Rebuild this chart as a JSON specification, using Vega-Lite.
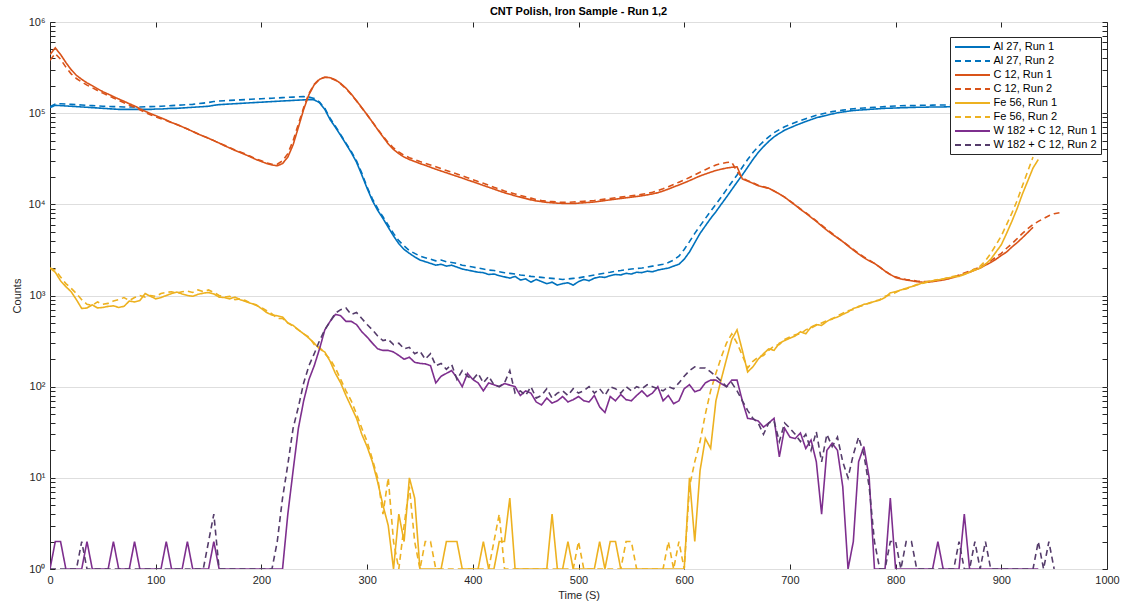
{
"$schema": "https://vega.github.io/schema/vega-lite/v6.json",
"width": 1057, "height": 547,
"autosize": "none",
"padding": {"left": 50, "top": 22, "right": 20, "bottom": 38},
"background": "white",
"title": {"text": "CNT Polish, Iron Sample - Run 1,2", "fontSize": 11, "fontWeight": "bold", "color": "#000000", "offset": -1},
"config": {"font": "Liberation Sans", "view": {"stroke": "#262626", "strokeWidth": 1}},
"data": {"values": [
{"t":0,"a1":115000,"a2":118000,"c1":440000,"c2":380000,"f1":2000,"f2":2000,"w1":1,"w2":1},
{"t":5,"a1":122000,"a2":126000,"c1":520000,"c2":450000,"f1":1800,"f2":1900,"w1":2,"w2":1},
{"t":10,"a1":121000,"a2":127000,"c1":440000,"c2":390000,"f1":1450,"f2":1600,"w1":2,"w2":1},
{"t":15,"a1":120000,"a2":126000,"c1":360000,"c2":320000,"f1":1250,"f2":1350,"w1":1,"w2":1},
{"t":20,"a1":119000,"a2":125000,"c1":300000,"c2":270000,"f1":1100,"f2":1200,"w1":1,"w2":1},
{"t":25,"a1":118000,"a2":124000,"c1":260000,"c2":240000,"f1":900,"f2":1050,"w1":1,"w2":1},
{"t":30,"a1":117000,"a2":123000,"c1":235000,"c2":220000,"f1":720,"f2":900,"w1":1,"w2":2},
{"t":35,"a1":116000,"a2":122000,"c1":215000,"c2":203000,"f1":730,"f2":800,"w1":2,"w2":1},
{"t":40,"a1":115000,"a2":121000,"c1":200000,"c2":190000,"f1":790,"f2":780,"w1":1,"w2":1},
{"t":45,"a1":114000,"a2":120000,"c1":185000,"c2":177000,"f1":730,"f2":850,"w1":1,"w2":1},
{"t":50,"a1":113000,"a2":119000,"c1":172000,"c2":166000,"f1":740,"f2":800,"w1":1,"w2":1},
{"t":55,"a1":112000,"a2":118500,"c1":162000,"c2":156000,"f1":760,"f2":820,"w1":1,"w2":1},
{"t":60,"a1":111000,"a2":118000,"c1":152000,"c2":147000,"f1":770,"f2":870,"w1":2,"w2":1},
{"t":65,"a1":110000,"a2":117500,"c1":143000,"c2":138000,"f1":740,"f2":900,"w1":1,"w2":1},
{"t":70,"a1":110000,"a2":117000,"c1":135000,"c2":130000,"f1":760,"f2":950,"w1":1,"w2":1},
{"t":75,"a1":110000,"a2":117000,"c1":127000,"c2":123000,"f1":870,"f2":880,"w1":1,"w2":1},
{"t":80,"a1":110000,"a2":117000,"c1":120000,"c2":116000,"f1":850,"f2":950,"w1":2,"w2":1},
{"t":85,"a1":110000,"a2":117000,"c1":112000,"c2":109000,"f1":880,"f2":1000,"w1":1,"w2":1},
{"t":90,"a1":110000,"a2":117500,"c1":105000,"c2":102000,"f1":1050,"f2":960,"w1":1,"w2":1},
{"t":95,"a1":110000,"a2":118000,"c1":99000,"c2":96000,"f1":980,"f2":1000,"w1":1,"w2":1},
{"t":100,"a1":111000,"a2":118500,"c1":94000,"c2":91000,"f1":920,"f2":980,"w1":1,"w2":1},
{"t":105,"a1":111000,"a2":119000,"c1":89000,"c2":87000,"f1":950,"f2":1050,"w1":1,"w2":1},
{"t":110,"a1":112000,"a2":120000,"c1":84000,"c2":83000,"f1":1000,"f2":1080,"w1":2,"w2":1},
{"t":115,"a1":113000,"a2":121000,"c1":79000,"c2":79000,"f1":1050,"f2":1100,"w1":1,"w2":1},
{"t":120,"a1":113000,"a2":122000,"c1":75000,"c2":75000,"f1":1090,"f2":1060,"w1":1,"w2":1},
{"t":125,"a1":114000,"a2":123000,"c1":71000,"c2":71000,"f1":1040,"f2":1100,"w1":1,"w2":1},
{"t":130,"a1":115000,"a2":124000,"c1":67000,"c2":67000,"f1":1000,"f2":1120,"w1":2,"w2":1},
{"t":135,"a1":116000,"a2":125000,"c1":63000,"c2":63000,"f1":980,"f2":1080,"w1":1,"w2":1},
{"t":140,"a1":117000,"a2":127000,"c1":59000,"c2":59500,"f1":1030,"f2":1150,"w1":1,"w2":1},
{"t":145,"a1":118000,"a2":129000,"c1":56000,"c2":56000,"f1":1060,"f2":1100,"w1":1,"w2":1},
{"t":150,"a1":119000,"a2":131000,"c1":53000,"c2":53000,"f1":1080,"f2":1150,"w1":1,"w2":2},
{"t":155,"a1":122000,"a2":134000,"c1":50000,"c2":50000,"f1":1040,"f2":1080,"w1":2,"w2":4},
{"t":160,"a1":124000,"a2":136000,"c1":47000,"c2":47000,"f1":960,"f2":1000,"w1":1,"w2":1},
{"t":165,"a1":125000,"a2":137000,"c1":44000,"c2":44500,"f1":950,"f2":960,"w1":1,"w2":1},
{"t":170,"a1":126000,"a2":138000,"c1":41500,"c2":42000,"f1":920,"f2":980,"w1":1,"w2":1},
{"t":175,"a1":127000,"a2":139000,"c1":39000,"c2":39500,"f1":960,"f2":900,"w1":1,"w2":1},
{"t":180,"a1":128000,"a2":140000,"c1":37000,"c2":37500,"f1":900,"f2":920,"w1":1,"w2":1},
{"t":185,"a1":129000,"a2":141000,"c1":35000,"c2":35500,"f1":860,"f2":880,"w1":1,"w2":1},
{"t":190,"a1":130000,"a2":142000,"c1":33000,"c2":33500,"f1":820,"f2":820,"w1":1,"w2":1},
{"t":195,"a1":131000,"a2":143000,"c1":31000,"c2":31500,"f1":790,"f2":780,"w1":1,"w2":1},
{"t":200,"a1":132000,"a2":144000,"c1":29500,"c2":30000,"f1":720,"f2":740,"w1":1,"w2":1},
{"t":205,"a1":133000,"a2":145000,"c1":28000,"c2":28500,"f1":650,"f2":680,"w1":1,"w2":1},
{"t":210,"a1":134000,"a2":146000,"c1":27000,"c2":27500,"f1":610,"f2":630,"w1":1,"w2":1},
{"t":215,"a1":135000,"a2":147000,"c1":26500,"c2":27500,"f1":600,"f2":560,"w1":1,"w2":2},
{"t":220,"a1":136000,"a2":148000,"c1":28000,"c2":30000,"f1":580,"f2":560,"w1":1,"w2":6},
{"t":225,"a1":137000,"a2":149000,"c1":33000,"c2":36000,"f1":500,"f2":500,"w1":4,"w2":14},
{"t":230,"a1":138000,"a2":150000,"c1":45000,"c2":50000,"f1":470,"f2":460,"w1":12,"w2":35},
{"t":235,"a1":139000,"a2":151000,"c1":70000,"c2":76000,"f1":420,"f2":420,"w1":35,"w2":60},
{"t":240,"a1":140000,"a2":152000,"c1":110000,"c2":115000,"f1":380,"f2":380,"w1":70,"w2":110},
{"t":245,"a1":141000,"a2":150000,"c1":160000,"c2":165000,"f1":340,"f2":350,"w1":120,"w2":170},
{"t":250,"a1":140000,"a2":145000,"c1":205000,"c2":208000,"f1":300,"f2":290,"w1":170,"w2":230},
{"t":255,"a1":130000,"a2":132000,"c1":235000,"c2":237000,"f1":260,"f2":270,"w1":260,"w2":320},
{"t":260,"a1":110000,"a2":113000,"c1":248000,"c2":248000,"f1":240,"f2":230,"w1":420,"w2":420},
{"t":265,"a1":85000,"a2":88000,"c1":245000,"c2":244000,"f1":190,"f2":200,"w1":520,"w2":520},
{"t":270,"a1":70000,"a2":72000,"c1":232000,"c2":230000,"f1":140,"f2":160,"w1":620,"w2":640},
{"t":275,"a1":57000,"a2":58000,"c1":212000,"c2":210000,"f1":110,"f2":120,"w1":600,"w2":700},
{"t":280,"a1":46000,"a2":47000,"c1":188000,"c2":186000,"f1":80,"f2":90,"w1":520,"w2":730},
{"t":285,"a1":37000,"a2":38000,"c1":162000,"c2":160000,"f1":60,"f2":70,"w1":520,"w2":620},
{"t":290,"a1":29000,"a2":30000,"c1":137000,"c2":136000,"f1":45,"f2":50,"w1":480,"w2":650},
{"t":295,"a1":21000,"a2":22000,"c1":115000,"c2":114000,"f1":30,"f2":35,"w1":400,"w2":560},
{"t":300,"a1":15000,"a2":15500,"c1":96000,"c2":96000,"f1":22,"f2":25,"w1":350,"w2":480},
{"t":305,"a1":11000,"a2":11500,"c1":80000,"c2":80000,"f1":15,"f2":16,"w1":300,"w2":420},
{"t":310,"a1":8600,"a2":9000,"c1":66000,"c2":67000,"f1":9,"f2":10,"w1":260,"w2":360},
{"t":315,"a1":7000,"a2":7300,"c1":55000,"c2":56000,"f1":5,"f2":4,"w1":250,"w2":320},
{"t":320,"a1":5600,"a2":5900,"c1":46000,"c2":47500,"f1":3,"f2":10,"w1":250,"w2":330},
{"t":325,"a1":4500,"a2":4800,"c1":40000,"c2":41500,"f1":1,"f2":2,"w1":240,"w2":290},
{"t":330,"a1":3700,"a2":4000,"c1":36000,"c2":37500,"f1":4,"f2":1,"w1":220,"w2":300},
{"t":335,"a1":3200,"a2":3500,"c1":33000,"c2":34500,"f1":2,"f2":3,"w1":200,"w2":260},
{"t":340,"a1":2900,"a2":3100,"c1":31000,"c2":32500,"f1":10,"f2":8,"w1":210,"w2":270},
{"t":345,"a1":2650,"a2":2900,"c1":29500,"c2":31000,"f1":6,"f2":2,"w1":185,"w2":230},
{"t":350,"a1":2450,"a2":2700,"c1":28000,"c2":29500,"f1":1,"f2":1,"w1":180,"w2":245},
{"t":355,"a1":2350,"a2":2600,"c1":26800,"c2":28200,"f1":1,"f2":2,"w1":178,"w2":200},
{"t":360,"a1":2250,"a2":2500,"c1":25500,"c2":27000,"f1":1,"f2":2,"w1":170,"w2":230},
{"t":365,"a1":2150,"a2":2400,"c1":24300,"c2":25800,"f1":1,"f2":1,"w1":110,"w2":170},
{"t":370,"a1":2200,"a2":2450,"c1":23200,"c2":24600,"f1":1,"f2":1,"w1":130,"w2":180},
{"t":375,"a1":2100,"a2":2350,"c1":22200,"c2":23500,"f1":2,"f2":1,"w1":140,"w2":155},
{"t":380,"a1":2150,"a2":2300,"c1":21200,"c2":22500,"f1":2,"f2":1,"w1":150,"w2":175},
{"t":385,"a1":2050,"a2":2250,"c1":20300,"c2":21500,"f1":2,"f2":1,"w1":125,"w2":120},
{"t":390,"a1":1950,"a2":2150,"c1":19400,"c2":20500,"f1":1,"f2":1,"w1":100,"w2":150},
{"t":395,"a1":1900,"a2":2100,"c1":18500,"c2":19600,"f1":1,"f2":1,"w1":140,"w2":130},
{"t":400,"a1":1850,"a2":2050,"c1":17700,"c2":18700,"f1":1,"f2":1,"w1":120,"w2":120},
{"t":405,"a1":1800,"a2":2000,"c1":16900,"c2":17800,"f1":1,"f2":1,"w1":110,"w2":140},
{"t":410,"a1":1780,"a2":1950,"c1":16100,"c2":17000,"f1":2,"f2":1,"w1":90,"w2":110},
{"t":415,"a1":1700,"a2":1900,"c1":15400,"c2":16200,"f1":1,"f2":1,"w1":110,"w2":130},
{"t":420,"a1":1720,"a2":1880,"c1":14700,"c2":15400,"f1":1,"f2":2,"w1":105,"w2":105},
{"t":425,"a1":1650,"a2":1820,"c1":14000,"c2":14700,"f1":2,"f2":4,"w1":100,"w2":100},
{"t":430,"a1":1600,"a2":1780,"c1":13400,"c2":14000,"f1":2,"f2":1,"w1":108,"w2":110},
{"t":435,"a1":1550,"a2":1750,"c1":12900,"c2":13500,"f1":6,"f2":1,"w1":104,"w2":150},
{"t":440,"a1":1620,"a2":1720,"c1":12400,"c2":13000,"f1":1,"f2":1,"w1":100,"w2":85},
{"t":445,"a1":1480,"a2":1680,"c1":12000,"c2":12500,"f1":1,"f2":1,"w1":80,"w2":90},
{"t":450,"a1":1520,"a2":1650,"c1":11600,"c2":12100,"f1":1,"f2":1,"w1":90,"w2":80},
{"t":455,"a1":1400,"a2":1620,"c1":11200,"c2":11700,"f1":1,"f2":1,"w1":85,"w2":100},
{"t":460,"a1":1500,"a2":1600,"c1":10900,"c2":11300,"f1":1,"f2":1,"w1":68,"w2":75},
{"t":465,"a1":1420,"a2":1580,"c1":10700,"c2":11000,"f1":1,"f2":1,"w1":63,"w2":80},
{"t":470,"a1":1350,"a2":1560,"c1":10500,"c2":10800,"f1":1,"f2":1,"w1":75,"w2":95},
{"t":475,"a1":1400,"a2":1540,"c1":10400,"c2":10700,"f1":4,"f2":1,"w1":66,"w2":75},
{"t":480,"a1":1300,"a2":1520,"c1":10300,"c2":10600,"f1":1,"f2":1,"w1":70,"w2":85},
{"t":485,"a1":1350,"a2":1500,"c1":10250,"c2":10500,"f1":1,"f2":1,"w1":78,"w2":90},
{"t":490,"a1":1380,"a2":1520,"c1":10200,"c2":10500,"f1":2,"f2":1,"w1":68,"w2":80},
{"t":495,"a1":1300,"a2":1540,"c1":10200,"c2":10600,"f1":1,"f2":1,"w1":72,"w2":95},
{"t":500,"a1":1420,"a2":1560,"c1":10300,"c2":10700,"f1":1,"f2":2,"w1":78,"w2":85},
{"t":505,"a1":1500,"a2":1600,"c1":10400,"c2":10800,"f1":1,"f2":1,"w1":70,"w2":90},
{"t":510,"a1":1450,"a2":1640,"c1":10500,"c2":10900,"f1":1,"f2":1,"w1":68,"w2":100},
{"t":515,"a1":1550,"a2":1680,"c1":10600,"c2":11000,"f1":1,"f2":1,"w1":80,"w2":85},
{"t":520,"a1":1600,"a2":1720,"c1":10800,"c2":11200,"f1":2,"f2":1,"w1":60,"w2":95},
{"t":525,"a1":1580,"a2":1760,"c1":11000,"c2":11400,"f1":1,"f2":1,"w1":52,"w2":80},
{"t":530,"a1":1650,"a2":1800,"c1":11200,"c2":11600,"f1":2,"f2":1,"w1":78,"w2":100},
{"t":535,"a1":1700,"a2":1850,"c1":11400,"c2":11800,"f1":2,"f2":1,"w1":70,"w2":95},
{"t":540,"a1":1680,"a2":1880,"c1":11600,"c2":12000,"f1":1,"f2":1,"w1":82,"w2":85},
{"t":545,"a1":1750,"a2":1920,"c1":11800,"c2":12200,"f1":1,"f2":2,"w1":72,"w2":100},
{"t":550,"a1":1720,"a2":1950,"c1":12000,"c2":12400,"f1":1,"f2":2,"w1":70,"w2":90},
{"t":555,"a1":1800,"a2":1980,"c1":12200,"c2":12600,"f1":1,"f2":1,"w1":80,"w2":100},
{"t":560,"a1":1780,"a2":2000,"c1":12400,"c2":12900,"f1":1,"f2":1,"w1":90,"w2":95},
{"t":565,"a1":1850,"a2":2050,"c1":12700,"c2":13200,"f1":1,"f2":1,"w1":78,"w2":105},
{"t":570,"a1":1820,"a2":2100,"c1":13000,"c2":13600,"f1":1,"f2":1,"w1":85,"w2":100},
{"t":575,"a1":1900,"a2":2150,"c1":13400,"c2":14100,"f1":1,"f2":1,"w1":100,"w2":95},
{"t":580,"a1":1950,"a2":2200,"c1":14000,"c2":14800,"f1":1,"f2":1,"w1":70,"w2":90},
{"t":585,"a1":2000,"a2":2300,"c1":14700,"c2":15600,"f1":1,"f2":2,"w1":80,"w2":100},
{"t":590,"a1":2100,"a2":2450,"c1":15500,"c2":16500,"f1":1,"f2":1,"w1":65,"w2":95},
{"t":595,"a1":2200,"a2":2700,"c1":16300,"c2":17500,"f1":1,"f2":2,"w1":70,"w2":110},
{"t":600,"a1":2500,"a2":3200,"c1":17200,"c2":18500,"f1":1,"f2":1,"w1":95,"w2":130},
{"t":605,"a1":3000,"a2":3900,"c1":18200,"c2":19700,"f1":10,"f2":8,"w1":105,"w2":150},
{"t":610,"a1":3800,"a2":4800,"c1":19300,"c2":21000,"f1":2,"f2":15,"w1":88,"w2":165},
{"t":615,"a1":4800,"a2":5800,"c1":20500,"c2":22500,"f1":12,"f2":25,"w1":92,"w2":160},
{"t":620,"a1":5800,"a2":7000,"c1":21500,"c2":24000,"f1":27,"f2":50,"w1":110,"w2":160},
{"t":625,"a1":7000,"a2":8400,"c1":22500,"c2":25500,"f1":21,"f2":90,"w1":118,"w2":145},
{"t":630,"a1":8300,"a2":10000,"c1":23500,"c2":27000,"f1":70,"f2":140,"w1":118,"w2":130},
{"t":635,"a1":10000,"a2":12000,"c1":24300,"c2":28000,"f1":120,"f2":210,"w1":108,"w2":115},
{"t":640,"a1":12000,"a2":14500,"c1":25000,"c2":28800,"f1":200,"f2":300,"w1":100,"w2":100},
{"t":645,"a1":14500,"a2":17500,"c1":25500,"c2":29000,"f1":330,"f2":380,"w1":118,"w2":110},
{"t":650,"a1":17500,"a2":21000,"c1":25800,"c2":23000,"f1":420,"f2":300,"w1":118,"w2":90},
{"t":655,"a1":21000,"a2":25500,"c1":19000,"c2":19500,"f1":250,"f2":220,"w1":70,"w2":70},
{"t":660,"a1":25500,"a2":31000,"c1":18000,"c2":18200,"f1":145,"f2":160,"w1":45,"w2":55},
{"t":665,"a1":31000,"a2":37000,"c1":17000,"c2":17200,"f1":165,"f2":190,"w1":44,"w2":45},
{"t":670,"a1":37000,"a2":43000,"c1":16000,"c2":16200,"f1":200,"f2":210,"w1":42,"w2":40},
{"t":675,"a1":43000,"a2":49000,"c1":15500,"c2":15600,"f1":230,"f2":220,"w1":36,"w2":30},
{"t":680,"a1":49000,"a2":55000,"c1":15000,"c2":15000,"f1":260,"f2":250,"w1":40,"w2":40},
{"t":685,"a1":55000,"a2":61000,"c1":14000,"c2":14000,"f1":250,"f2":280,"w1":45,"w2":42},
{"t":690,"a1":60000,"a2":66000,"c1":13000,"c2":13000,"f1":300,"f2":290,"w1":17,"w2":25},
{"t":695,"a1":65000,"a2":71000,"c1":12000,"c2":12000,"f1":320,"f2":330,"w1":35,"w2":40},
{"t":700,"a1":69000,"a2":75000,"c1":10800,"c2":10900,"f1":340,"f2":350,"w1":28,"w2":35},
{"t":705,"a1":73000,"a2":79000,"c1":9800,"c2":9900,"f1":360,"f2":370,"w1":27,"w2":30},
{"t":710,"a1":77000,"a2":83000,"c1":8800,"c2":8900,"f1":400,"f2":380,"w1":31,"w2":25},
{"t":715,"a1":81000,"a2":87000,"c1":8000,"c2":8100,"f1":380,"f2":420,"w1":21,"w2":30},
{"t":720,"a1":85000,"a2":91000,"c1":7200,"c2":7300,"f1":450,"f2":440,"w1":26,"w2":20},
{"t":725,"a1":89000,"a2":95000,"c1":6500,"c2":6600,"f1":480,"f2":470,"w1":15,"w2":32},
{"t":730,"a1":92000,"a2":98000,"c1":5800,"c2":5900,"f1":470,"f2":500,"w1":4,"w2":15},
{"t":735,"a1":95000,"a2":101000,"c1":5200,"c2":5300,"f1":520,"f2":530,"w1":20,"w2":30},
{"t":740,"a1":98000,"a2":104000,"c1":4700,"c2":4800,"f1":560,"f2":550,"w1":24,"w2":22},
{"t":745,"a1":101000,"a2":106000,"c1":4300,"c2":4300,"f1":580,"f2":600,"w1":20,"w2":28},
{"t":750,"a1":103000,"a2":108000,"c1":3900,"c2":3900,"f1":620,"f2":640,"w1":8,"w2":15},
{"t":755,"a1":105000,"a2":110000,"c1":3500,"c2":3550,"f1":660,"f2":680,"w1":1,"w2":10},
{"t":760,"a1":107000,"a2":112000,"c1":3150,"c2":3200,"f1":720,"f2":700,"w1":2,"w2":18},
{"t":765,"a1":108000,"a2":113000,"c1":2850,"c2":2900,"f1":750,"f2":760,"w1":15,"w2":28},
{"t":770,"a1":109000,"a2":114000,"c1":2600,"c2":2650,"f1":800,"f2":780,"w1":22,"w2":18},
{"t":775,"a1":110000,"a2":115000,"c1":2400,"c2":2450,"f1":820,"f2":830,"w1":10,"w2":8},
{"t":780,"a1":111000,"a2":116000,"c1":2250,"c2":2250,"f1":860,"f2":870,"w1":1,"w2":2},
{"t":785,"a1":112000,"a2":117000,"c1":2050,"c2":2050,"f1":890,"f2":900,"w1":1,"w2":1},
{"t":790,"a1":113000,"a2":118000,"c1":1850,"c2":1850,"f1":950,"f2":980,"w1":1,"w2":1},
{"t":795,"a1":113500,"a2":119000,"c1":1700,"c2":1700,"f1":1070,"f2":1020,"w1":6,"w2":2},
{"t":800,"a1":114000,"a2":120000,"c1":1580,"c2":1600,"f1":1100,"f2":1080,"w1":1,"w2":2},
{"t":805,"a1":114500,"a2":120500,"c1":1520,"c2":1540,"f1":1150,"f2":1150,"w1":1,"w2":1},
{"t":810,"a1":115000,"a2":121000,"c1":1480,"c2":1500,"f1":1200,"f2":1180,"w1":1,"w2":2},
{"t":815,"a1":115500,"a2":121000,"c1":1450,"c2":1470,"f1":1250,"f2":1250,"w1":1,"w2":2},
{"t":820,"a1":116000,"a2":121500,"c1":1420,"c2":1440,"f1":1300,"f2":1320,"w1":1,"w2":1},
{"t":825,"a1":116000,"a2":122000,"c1":1400,"c2":1420,"f1":1370,"f2":1350,"w1":1,"w2":1},
{"t":830,"a1":116500,"a2":122000,"c1":1400,"c2":1420,"f1":1420,"f2":1400,"w1":1,"w2":1},
{"t":835,"a1":117000,"a2":122500,"c1":1420,"c2":1440,"f1":1450,"f2":1450,"w1":1,"w2":1},
{"t":840,"a1":117000,"a2":123000,"c1":1450,"c2":1470,"f1":1480,"f2":1500,"w1":2,"w2":1},
{"t":845,"a1":117000,"a2":123000,"c1":1480,"c2":1500,"f1":1520,"f2":1520,"w1":1,"w2":1},
{"t":850,"a1":117500,"a2":123000,"c1":1520,"c2":1550,"f1":1560,"f2":1580,"w1":1,"w2":1},
{"t":855,"a1":118000,"a2":123500,"c1":1580,"c2":1600,"f1":1600,"f2":1620,"w1":1,"w2":1},
{"t":860,"a1":118000,"a2":124000,"c1":1650,"c2":1680,"f1":1620,"f2":1650,"w1":1,"w2":2},
{"t":865,"a1":118000,"a2":124000,"c1":1720,"c2":1760,"f1":1700,"f2":1720,"w1":4,"w2":1},
{"t":870,"a1":118500,"a2":124000,"c1":1800,"c2":1850,"f1":1800,"f2":1820,"w1":1,"w2":1},
{"t":875,"a1":119000,"a2":124500,"c1":1900,"c2":1950,"f1":1900,"f2":1950,"w1":1,"w2":2},
{"t":880,"a1":119000,"a2":125000,"c1":2000,"c2":2050,"f1":2000,"f2":2100,"w1":1,"w2":1},
{"t":885,"a1":119000,"a2":125000,"c1":2150,"c2":2200,"f1":2200,"f2":2400,"w1":1,"w2":2},
{"t":890,"a1":119500,"a2":125000,"c1":2300,"c2":2400,"f1":2500,"f2":2900,"w1":1,"w2":1},
{"t":895,"a1":120000,"a2":125000,"c1":2500,"c2":2650,"f1":3000,"f2":3600,"w1":1,"w2":1},
{"t":900,"a1":120000,"a2":125500,"c1":2750,"c2":2900,"f1":3600,"f2":4500,"w1":1,"w2":1},
{"t":905,"a1":120000,"a2":125500,"c1":3000,"c2":3300,"f1":4800,"f2":6000,"w1":1,"w2":1},
{"t":910,"a1":120500,"a2":125500,"c1":3400,"c2":3700,"f1":6500,"f2":8000,"w1":1,"w2":1},
{"t":915,"a1":121000,"a2":126000,"c1":3800,"c2":4200,"f1":9000,"f2":11000,"w1":1,"w2":1},
{"t":920,"a1":121000,"a2":126000,"c1":4300,"c2":4800,"f1":13000,"f2":16000,"w1":1,"w2":1},
{"t":925,"a1":121000,"a2":126000,"c1":4900,"c2":5400,"f1":18000,"f2":23000,"w1":1,"w2":1},
{"t":930,"a1":121000,"a2":126000,"c1":5600,"c2":6000,"f1":25000,"f2":33000,"w1":1,"w2":1},
{"t":935,"a2":126000,"c2":6500,"f1":31000,"w1":1,"w2":2},
{"t":940,"c2":7000,"w2":1},
{"t":945,"c2":7500,"w2":2},
{"t":950,"c2":7900,"w2":1},
{"t":955,"c2":8100}
]},
"transform": [
  {"fold": ["a1","a2","c1","c2","f1","f2","w1","w2"], "as": ["s","v"]},
  {"filter": "isValid(datum.v)"}
],
"layer": [
  {
    "mark": {"type": "line", "strokeWidth": 1.6, "clip": true},
    "encoding": {
      "x": {"field": "t", "type": "quantitative",
        "scale": {"domain": [0, 1000], "nice": false, "zero": false},
        "axis": {"orient": "bottom", "values": [0,100,200,300,400,500,600,700,800,900,1000], "format": "d", "labelFlush": false, "labelBound": false, "tickSize": -5, "tickColor": "#262626", "domain": false, "grid": false,
          "labelFontSize": 11, "labelColor": "#262626", "labelPadding": 10, "title": "Time (S)", "titleFontSize": 11, "titleFontWeight": "normal", "titleColor": "#262626", "titlePadding": 4}},
      "y": {"field": "v", "type": "quantitative",
        "scale": {"type": "log", "domain": [1, 1000000], "nice": false},
        "axis": {"orient": "left",
          "values": [1,2,3,4,5,6,7,8,9,10,20,30,40,50,60,70,80,90,100,200,300,400,500,600,700,800,900,1000,2000,3000,4000,5000,6000,7000,8000,9000,10000,20000,30000,40000,50000,60000,70000,80000,90000,100000,200000,300000,400000,500000,600000,700000,800000,900000,1000000],
          "labelExpr": "indexof([1,10,100,1000,10000,100000,1000000], datum.value) >= 0 ? '10' + ['⁰','¹','²','³','⁴','⁵','⁶'][round(log(datum.value)/LN10)] : ''",
          "labelOverlap": false, "labelFlush": false, "labelBound": false, "labelFontSize": 11, "labelColor": "#262626", "labelPadding": 10,
          "tickSize": -5, "tickColor": "#262626", "domain": false,
          "grid": true, "gridColor": "#dedede",
          "gridOpacity": {"condition": {"test": "indexof([1,10,100,1000,10000,100000,1000000], datum.value) >= 0", "value": 1}, "value": 0},
          "title": "Counts", "titleFontSize": 11, "titleFontWeight": "normal", "titleColor": "#262626", "titlePadding": 6}},
      "color": {"field": "s", "type": "nominal",
        "scale": {"domain": ["a1","a2","c1","c2","f1","f2","w1","w2"], "range": ["#0072BD","#0072BD","#D95319","#D95319","#EDB120","#EDB120","#7E2F8E","#553C6B"]},
        "legend": {"title": null, "orient": "none", "legendX": 900, "legendY": 15, "symbolType": "M-3.5,0H3.5", "symbolSize": 100, "symbolStrokeWidth": 1.8, "symbolOffset": 12.5,
          "labelFontSize": 11, "labelColor": "#000000", "labelOffset": 15, "rowPadding": 3, "strokeColor": "#262626", "fillColor": "white", "padding": 4,
          "labelExpr": "['Al 27, Run 1','Al 27, Run 2','C 12, Run 1','C 12, Run 2','Fe 56, Run 1','Fe 56, Run 2','W 182 + C 12, Run 1','W 182 + C 12, Run 2'][indexof(['a1','a2','c1','c2','f1','f2','w1','w2'], datum.label)]"}},
      "strokeDash": {"field": "s", "type": "nominal",
        "scale": {"domain": ["a1","a2","c1","c2","f1","f2","w1","w2"], "range": [[1,0],[6,4],[1,0],[6,4],[1,0],[6,4],[1,0],[6,4]]},
        "legend": {"title": null, "orient": "none", "legendX": 900, "legendY": 15, "symbolType": "M-3.5,0H3.5", "symbolSize": 100, "symbolStrokeWidth": 1.8, "symbolOffset": 12.5,
          "labelFontSize": 11, "labelColor": "#000000", "labelOffset": 15, "rowPadding": 3, "strokeColor": "#262626", "fillColor": "white", "padding": 4,
          "labelExpr": "['Al 27, Run 1','Al 27, Run 2','C 12, Run 1','C 12, Run 2','Fe 56, Run 1','Fe 56, Run 2','W 182 + C 12, Run 1','W 182 + C 12, Run 2'][indexof(['a1','a2','c1','c2','f1','f2','w1','w2'], datum.label)]"}}
    }
  },
  {
    "mark": {"type": "line", "opacity": 0},
    "encoding": {
      "x": {"field": "t", "type": "quantitative",
        "scale": {"domain": [0, 1000], "nice": false, "zero": false},
        "axis": {"orient": "top", "values": [0,100,200,300,400,500,600,700,800,900,1000], "labels": false, "tickSize": -5, "tickColor": "#262626", "domain": false, "grid": false, "title": null}},
      "y": {"field": "v", "type": "quantitative",
        "scale": {"type": "log", "domain": [1, 1000000], "nice": false},
        "axis": {"orient": "right",
          "values": [1,2,3,4,5,6,7,8,9,10,20,30,40,50,60,70,80,90,100,200,300,400,500,600,700,800,900,1000,2000,3000,4000,5000,6000,7000,8000,9000,10000,20000,30000,40000,50000,60000,70000,80000,90000,100000,200000,300000,400000,500000,600000,700000,800000,900000,1000000],
          "labels": false, "tickSize": -5, "tickColor": "#262626", "domain": false, "grid": false, "title": null}}
    }
  }
],
"resolve": {"axis": {"x": "independent", "y": "independent"}}
}
